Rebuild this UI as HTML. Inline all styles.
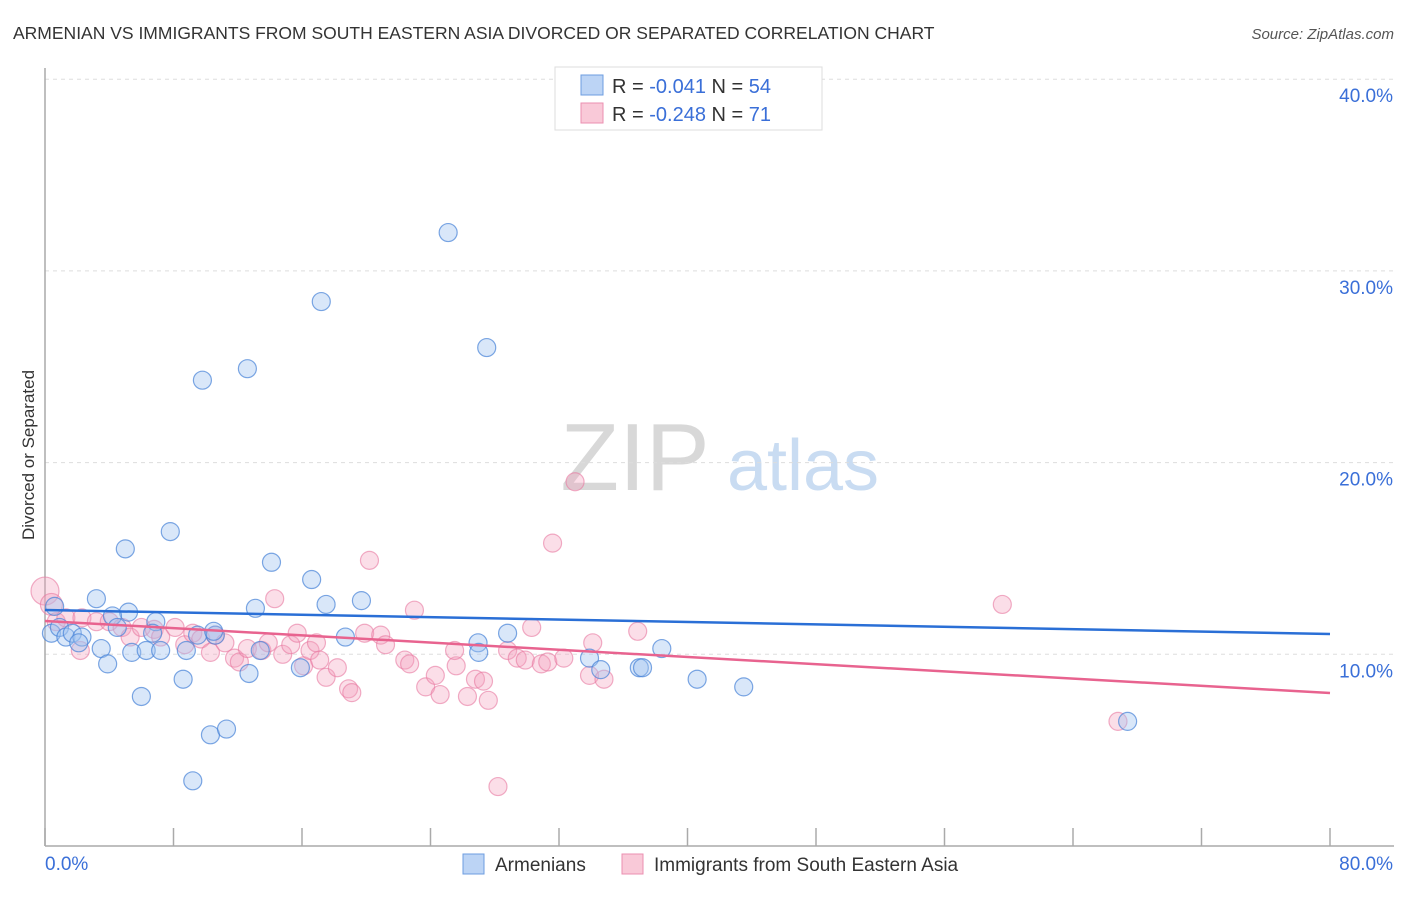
<!DOCTYPE html>
<html><head><meta charset="utf-8">
<style>
body{margin:0;background:#fff;font-family:"Liberation Sans",sans-serif;}
svg text{font-family:"Liberation Sans",sans-serif;}
</style></head>
<body>
<svg id="chart" width="1406" height="892" xmlns="http://www.w3.org/2000/svg">
<text x="13" y="39" font-size="17.5" fill="#333">ARMENIAN VS IMMIGRANTS FROM SOUTH EASTERN ASIA DIVORCED OR SEPARATED CORRELATION CHART</text>
<text x="1394" y="39" font-size="15" fill="#555" font-style="italic" text-anchor="end">Source: ZipAtlas.com</text>
<g>
<text x="635" y="490" font-size="96" fill="#d8d8d8" font-family="Liberation Serif,serif" text-anchor="middle">ZIP</text>
<text x="803" y="490" font-size="72" fill="#c9dcf2" text-anchor="middle">atlas</text>
</g>
<g id="grid"></g>
<g id="axes"></g>
<g id="marks"></g>
<g id="trends"></g>
<g>
<rect x="555" y="67" width="267" height="63" fill="#fff" stroke="#ddd"/>
<rect x="581" y="75" width="22" height="20" fill="#bcd4f5" stroke="#6d9de0"/>
<rect x="581" y="103" width="22" height="20" fill="#f9c9d8" stroke="#eb8fb0"/>
<text x="612" y="93" font-size="20" fill="#333">R = <tspan fill="#3a6fd8">-0.041</tspan>   N = <tspan fill="#3a6fd8">54</tspan></text>
<text x="612" y="121" font-size="20" fill="#333">R = <tspan fill="#3a6fd8">-0.248</tspan>   N =  <tspan fill="#3a6fd8">71</tspan></text>
</g>
<g>
<rect x="463" y="854" width="21" height="20" fill="#bcd4f5" stroke="#6d9de0"/>
<text x="495" y="871" font-size="19" fill="#333">Armenians</text>
<rect x="622" y="854" width="21" height="20" fill="#f9c9d8" stroke="#eb8fb0"/>
<text x="654" y="871" font-size="19" fill="#333">Immigrants from South Eastern Asia</text>
</g>
<text transform="translate(34,455) rotate(-90)" font-size="17" fill="#333" text-anchor="middle">Divorced or Separated</text>
</svg>
<script>
const yTicks=[10,20,30,40];
const yTickLabels=["10.0%","20.0%","30.0%","40.0%"];
const xTickVals=[0,8,16,24,32,40,48,56,64,72,80];
const xEndLabels=["0.0%","80.0%"];
const blueX=[25.1,17.2,27.5,12.6,9.8,7.8,5.0,14.1,16.6,3.2,19.7,17.5,13.1,5.2,4.2,6.9,0.6,0.4,0.9,1.3,1.7,2.3,2.1,3.5,3.9,5.4,6.3,7.2,8.8,9.5,10.6,13.4,10.5,12.7,15.9,18.7,26.96,27.0,28.8,33.9,34.6,37.0,37.2,38.4,40.6,43.5,67.4,6.0,8.6,10.3,11.3,9.2,6.7,4.5];
const blueY=[32.0,28.4,26.0,24.9,24.3,16.4,15.5,14.8,13.9,12.9,12.8,12.6,12.4,12.2,12.0,11.7,12.5,11.1,11.4,10.9,11.1,10.9,10.6,10.3,9.5,10.1,10.2,10.2,10.2,11.0,11.0,10.2,11.2,9.0,9.3,10.9,10.6,10.1,11.1,9.8,9.2,9.3,9.3,10.3,8.7,8.3,6.5,7.8,8.7,5.8,6.1,3.4,11.1,11.4,11.6];
const pinkX=[0.0,0.4,0.7,1.3,2.3,3.2,4.0,4.8,5.3,6.0,6.8,7.2,8.1,8.7,9.2,9.7,10.3,10.6,11.2,11.8,12.1,12.6,13.5,13.9,14.3,14.8,15.3,15.7,16.1,16.5,16.9,17.1,17.5,18.2,18.9,19.1,20.2,19.9,20.9,21.2,22.4,22.7,23.0,23.7,24.3,24.6,25.6,25.5,26.3,26.8,27.3,27.6,28.2,28.8,29.4,29.9,30.3,30.9,31.3,31.6,32.3,33.0,33.9,34.1,34.8,36.9,59.6,66.8,2.2];
const pinkY=[13.3,12.6,11.7,11.9,11.9,11.7,11.7,11.4,10.9,11.4,11.3,10.9,11.4,10.5,11.1,10.8,10.1,11.0,10.6,9.8,9.6,10.3,10.2,10.6,12.9,10.0,10.5,11.1,9.4,10.2,10.6,9.7,8.8,9.3,8.2,8.0,14.9,11.1,11.0,10.5,9.7,9.5,12.3,8.3,8.9,7.9,9.4,10.2,7.8,8.7,8.6,7.6,3.1,10.2,9.8,9.7,11.4,9.5,9.6,15.8,9.8,19.0,8.9,10.6,8.7,11.2,12.6,6.5,10.2];
const pinkR=[14,11,9,9,9,9,9,9,9,9,9,9,9,9,9,9,9,9,9,9,9,9,9,9,9,9,9,9,9,9,9,9,9,9,9,9,9,9,9,9,9,9,9,9,9,9,9,9,9,9,9,9,9,9,9,9,9,9,9,9,9,9,9,9,9,9,9,9,9];
const blueTrend=[12.31,11.06];
const pinkTrend=[11.74,7.98];
const NS="http://www.w3.org/2000/svg";
const X=v=>45+v*(1285/80);
const Y=v=>846-v*19.17;
function mk(tag,attrs,parent){const e=document.createElementNS(NS,tag);for(const k in attrs)e.setAttribute(k,attrs[k]);parent.appendChild(e);return e;}
const grid=document.getElementById('grid'),axes=document.getElementById('axes'),marks=document.getElementById('marks'),trends=document.getElementById('trends');
yTicks.forEach((t,i)=>{
 const l=mk('line',{x1:45,x2:1394,y1:Y(t),y2:Y(t),stroke:'#ddd','stroke-dasharray':'4,4'},grid);
 
 
 const tx=mk('text',{x:1393,y:Y(t)+23,'font-size':19,fill:'#3a6fd8','text-anchor':'end'},axes);
 tx.textContent=yTickLabels[i];
 
 
});
const ax=mk('line',{x1:45,x2:45,y1:68,y2:846,stroke:'#aaa','stroke-width':1.5},axes);


const bx=mk('line',{x1:45,x2:1394,y1:846,y2:846,stroke:'#aaa','stroke-width':1.5},axes);


xTickVals.forEach(t=>{
 const l=mk('line',{x1:X(t),x2:X(t),y1:828,y2:846,stroke:'#aaa','stroke-width':1.5},axes);
 
 
});
const xl0=mk('text',{x:45,y:870,'font-size':19,fill:'#3a6fd8'},axes);xl0.textContent=xEndLabels[0];


const xl1=mk('text',{x:1393,y:870,'font-size':19,fill:'#3a6fd8','text-anchor':'end'},axes);xl1.textContent=xEndLabels[1];


pinkX.forEach((v,i)=>{
 const c=mk('circle',{cx:X(v),cy:Y(pinkY[i]),r:pinkR[i],fill:'rgba(244,160,190,0.35)',stroke:'rgba(232,120,160,0.6)','stroke-width':1.2},marks);
 
 
});
blueX.forEach((v,i)=>{
 const c=mk('circle',{cx:X(v),cy:Y(blueY[i]),r:9,fill:'rgba(160,195,240,0.4)',stroke:'rgba(70,130,215,0.7)','stroke-width':1.2},marks);
 
 
});
const bt=mk('line',{x1:X(0),x2:X(80),y1:Y(blueTrend[0]),y2:Y(blueTrend[1]),stroke:'#2a6fd6','stroke-width':2.5},trends);


const pt=mk('line',{x1:X(0),x2:X(80),y1:Y(pinkTrend[0]),y2:Y(pinkTrend[1]),stroke:'#e8638f','stroke-width':2.5},trends);


</script>
</body></html>
